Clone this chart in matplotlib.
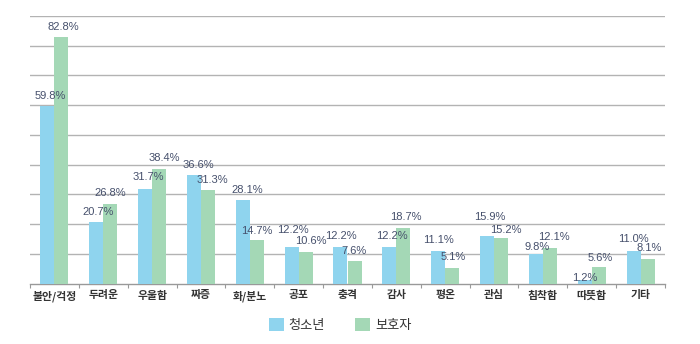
import matplotlib
matplotlib.use("Agg")
import matplotlib.pyplot as plt
from matplotlib.patches import Patch
import numpy as np

categories = ["불안/걱정", "두려운", "우울함", "짜증", "화/분노", "공포", "충격",
              "감사", "평온", "관심", "침착함", "따뜻함", "기타"]
youth = [59.8, 20.7, 31.7, 36.6, 28.1, 12.2, 12.2, 12.2, 11.1, 15.9, 9.8, 1.2, 11.0]
parents = [82.8, 26.8, 38.4, 31.3, 14.7, 10.6, 7.6, 18.7, 5.1, 15.2, 12.1, 5.6, 8.1]
series_names = ["청소년", "보호자"]

# label offsets (pixels) relative to bar top-centre
youth_dx = [3, 2, 3, 4.5, 4.5, 1, 0, 2.5, 0, 3, 1, 0.5, 0]
youth_dy = [10, 10, 12, 10, 10, 17, 11, 11, 11, 19, 7, 2, 12]
parents_dx = [2, 0, 5, 4.5, 0, 5, 0, 2, 1.5, 4.5, 4.5, 1.5, 2]
parents_dy = [10, 11, 11, 10, 9, 11, 10, 11, 11, 8, 11, 9, 11]

BLUE = "#8fd4ee"
GREEN = "#a4d8b6"
LABEL_COLOR = "#46506c"
FONTS = ["Liberation Sans", "Noto Sans CJK KR", "DejaVu Sans"]
KFONTS = ["Noto Sans CJK KR", "DejaVu Sans"]

fig = plt.figure(figsize=(7, 3.44), dpi=100)
ax = fig.add_axes([30 / 700, 1 - 283.5 / 344, 635 / 700, (283.5 - 16) / 344])

x = np.arange(len(categories))
w = 0.287
ax.bar(x - w / 2, youth, w, color=BLUE, zorder=3)
ax.bar(x + w / 2, parents, w, color=GREEN, zorder=3)

pt = 0.72
for i in range(len(categories)):
    ax.annotate(f"{youth[i]:.1f}%", (x[i] - w / 2, youth[i]),
                xytext=(youth_dx[i] * pt, youth_dy[i] * pt), textcoords="offset points",
                ha="center", va="center", fontsize=8.0, color=LABEL_COLOR,
                family=FONTS, zorder=4)
    ax.annotate(f"{parents[i]:.1f}%", (x[i] + w / 2, parents[i]),
                xytext=(parents_dx[i] * pt, parents_dy[i] * pt), textcoords="offset points",
                ha="center", va="center", fontsize=8.0, color=LABEL_COLOR,
                family=FONTS, zorder=4)

ax.set_xlim(-0.5, len(categories) - 0.5)
ax.set_ylim(0, 90)
ax.set_yticks(np.arange(10, 91, 10))
ax.yaxis.grid(True, color="#b3b3b3", linewidth=1.0, zorder=0)
ax.tick_params(axis="y", length=0, labelleft=False)

ax.set_xticks(x)
ax.set_xticklabels(categories, family=KFONTS, fontsize=7.8, fontweight="bold", color="#333333")
ax.tick_params(axis="x", which="major", length=0, pad=5)
ax.set_xticks(np.arange(-0.5, len(categories), 1), minor=True)
ax.tick_params(axis="x", which="minor", length=3, color="#999999", width=0.8)

for s in ["top", "right", "left"]:
    ax.spines[s].set_visible(False)
ax.spines["bottom"].set_color("#999999")
ax.spines["bottom"].set_linewidth(1.0)

handles = [Patch(facecolor=BLUE, edgecolor="none"), Patch(facecolor=GREEN, edgecolor="none")]
fig.legend(handles, series_names, loc="center", bbox_to_anchor=(340 / 700, 1 - 325 / 344),
           ncol=2, frameon=False, prop={"family": KFONTS, "size": 9.5},
           handlelength=1.15, handleheight=1.15, handletextpad=0.35, columnspacing=2.3,
           labelcolor="#333333")

fig.savefig("out.png", dpi=100)
